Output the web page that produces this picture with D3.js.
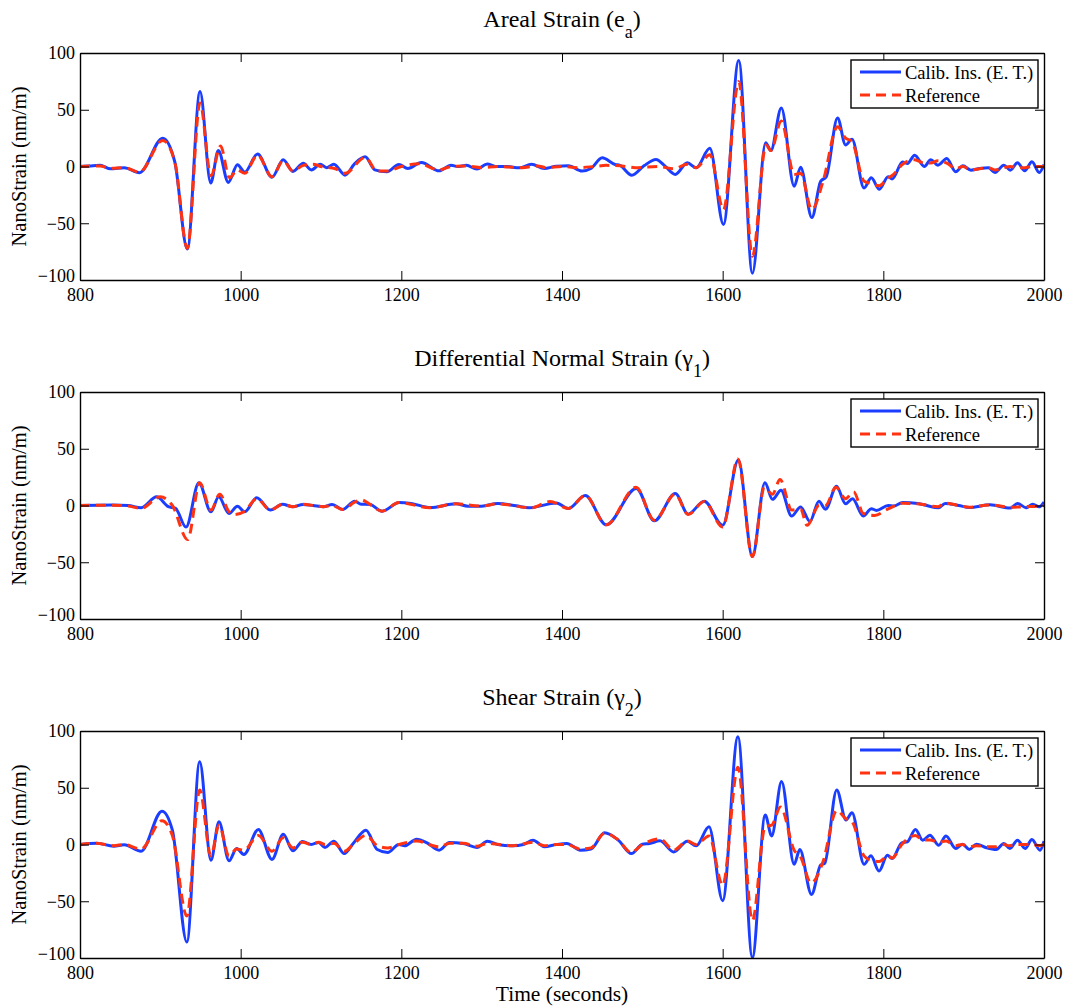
<!DOCTYPE html>
<html lang="en">
<head>
    <meta charset="UTF-8">
    <title>Strain comparison</title>
    <script type="text/javascript" src="https://cdn.jsdelivr.net/npm/d3@7"></script>
    <style>
        body { margin: 0; background: #fff; }
        svg text { font-family: "Liberation Serif", "Times New Roman", serif; fill: #000; }
    </style>
</head>
<body>
<script type="text/javascript">
    var w = 1068;
    var h = 1007;

    var xTicks = [800, 1000, 1200, 1400, 1600, 1800, 2000];
    var yTicks = [-100, -50, 0, 50, 100];
    var seriesNames = ["Calib. Ins. (E. T.)", "Reference"];

    // panel titles: main text, subscript
    var titles = [
        ["Areal Strain (e", "a"],
        ["Differential Normal Strain (\u03b3", "1"],
        ["Shear Strain (\u03b3", "2"]
    ];

    // [time (s), nanostrain]
    var arealCalib = [[800,0],[812,0.5],[825,1],[838,-2],[855,-1],[874,-5.5],[903,25],[918,4],[933.6,-72.7],[949.4,66],[962.7,-14.5],[972.2,14.2],[984.6,-14],[996,1.6],[1005,-5],[1021,11],[1039,-9.5],[1053,6],[1065,-4.3],[1078,2.8],[1088,-3],[1099,2],[1107,-1],[1116,2],[1130,-7.6],[1142,2.6],[1155,8.5],[1167,-3],[1182,-4.7],[1197,1.8],[1208,-1.8],[1225,3.5],[1247,-3.8],[1262,1.2],[1270,0],[1281,1],[1294,-2.3],[1307,2.3],[1317,0],[1330,0],[1347,-1.2],[1362,2],[1378,-1.8],[1393,0.3],[1408,0.6],[1425,-4],[1436,-1.8],[1450,7.6],[1466,1.8],[1472,1],[1487,-7.6],[1502,0.6],[1517,6.2],[1528,0.6],[1541,-7],[1556,3.2],[1567,-1.2],[1584,16],[1601,-51],[1620,93.5],[1637,-94],[1653.5,21],[1660,14],[1673,51.5],[1689,-17.5],[1697,-0.7],[1711,-45],[1722,-13],[1729,-9],[1743,42.7],[1753,19],[1761,24],[1776,-19],[1785,-10],[1795,-20],[1806,-9],[1811,-11],[1824,4],[1830,2.6],[1839,10],[1851,0],[1859,6],[1868,1.2],[1879,7],[1890,-4.7],[1899,0.6],[1909,-3.2],[1920,-1.8],[1931,-1.2],[1939,-5.3],[1950,1.2],[1958,-3.2],[1967,3.2],[1976,-3.8],[1985,4.1],[1994,-5.3],[2000,1.8]];
    var arealRef = [[800,0],[825,0.5],[838,-1.5],[855,-1],[874,-5],[903,23],[918,4],[933.6,-72],[949.4,56],[963,-8],[975,18],[986,-10],[996,-3],[1005,-6],[1021,10],[1039,-9],[1053,5],[1065,-4],[1078,1],[1090,2],[1100,0],[1118,-2],[1130,-6],[1155,8],[1170,-4],[1182,-4],[1200,0],[1222,2.5],[1247,-3],[1262,0],[1280,0.5],[1300,-1],[1320,0],[1350,-1],[1370,0.5],[1380,-1],[1400,0],[1420,-1],[1440,0],[1455,1],[1480,0],[1491,-1],[1520,0],[1539,-2],[1556,2],[1567,-1],[1584,10.4],[1601,-38],[1620,75],[1637,-79],[1654,19],[1660,14],[1673,40],[1689,-7],[1697,-6],[1711,-38],[1725,-13],[1743,35],[1753,25],[1761,22],[1776,-13],[1785,-15],[1795,-17],[1806,-10],[1811,-8],[1824,2],[1839,6],[1851,3],[1859,3],[1868,5],[1879,3],[1890,-2],[1899,0],[1909,-3],[1920,-2],[1931,-1],[1939,-3],[1950,-1],[1958,0],[1967,-1],[1976,-1],[1985,0],[1994,0],[2000,0]];

    var diffCalib = [[800,0],[840,0.5],[860,0],[876,-2],[895.5,7.6],[910,-1],[919,-2.6],[932,-19],[948,20],[963,-5.6],[972.6,7.6],[985.5,-7],[996,-0.6],[1005,-5.6],[1020,6.8],[1037,-4],[1052,1.2],[1065,-1.2],[1077.5,0.9],[1090,0],[1103,-1.2],[1114,0.9],[1127,-3.5],[1142,3.8],[1150,1.2],[1161,0.9],[1176,-5],[1197.5,2.6],[1212,1.8],[1236,-1.8],[1268,1.5],[1283,-0.6],[1300,-0.6],[1320,1.8],[1343,-0.3],[1359,-2],[1393,2.3],[1408,-2.6],[1429,8.8],[1455,-17],[1492.5,15],[1515,-13.5],[1541,10.6],[1557,-7.6],[1577,3.8],[1600,-17.5],[1619.5,40],[1637,-45],[1652.6,20],[1662,5.4],[1672.6,13.4],[1685.8,-9.3],[1697,-1.3],[1708.6,-14],[1719.8,3.7],[1728,-3.4],[1741.7,17],[1753,1.5],[1761.7,6],[1775,-9.3],[1785,-2.8],[1791.4,-4.3],[1806,0],[1813,-0.5],[1824,2.6],[1843,1.8],[1868.5,-2],[1877,1.8],[1894,0],[1907,-1.8],[1933,0.6],[1958,-2.3],[1967,1.8],[1978,-2],[1986,1.2],[1994,-1.2],[2000,3]];
    var diffRef = [[800,0],[840,0.3],[860,-0.5],[876,-2.5],[900,7.6],[915,0],[934,-30],[949,20],[963,-4],[974,10],[985,-5],[992,-8],[1005,-5],[1020,6],[1037,-4],[1052,1],[1065,-1],[1078,1],[1090,0],[1103,-1],[1114,0],[1127,-3.5],[1142,3],[1150,5],[1161,1],[1176,-5],[1197,2.6],[1236,-2],[1268,1.5],[1300,-0.5],[1320,1.5],[1362,-2],[1385,3.5],[1408,-2.6],[1429,8.8],[1455,-17],[1492,16],[1515,-13],[1541,10],[1557,-8],[1577,3.5],[1600,-19],[1619,41],[1637,-45],[1652,16],[1662,10],[1671.4,23],[1686,-4],[1697,-3],[1705,-17.5],[1720,0],[1728,0],[1741,16],[1753,6],[1763,12],[1775,-7],[1789,-8.7],[1806,-3],[1824,2],[1843,1.5],[1868,-1],[1877,2],[1894,0],[1907,-1.5],[1933,0.5],[1958,-1.5],[1978,-1],[1994,-0.5],[2000,0]];

    var shearCalib = [[800,0],[820.6,1.2],[842,-1.5],[855,-0.3],[876,-5.9],[902,29.4],[915,12.6],[933,-86],[949,73],[963,-13.8],[973,20],[985.5,-14.4],[995,-3.5],[1004,-8.8],[1022,13.2],[1039,-13.2],[1053,9],[1065,-5.6],[1077,2.6],[1088,0],[1097,1.8],[1105,-2.6],[1116,2.9],[1129,-8],[1140,0.9],[1156,12.6],[1170,-4.4],[1183,-7],[1197,0],[1204,-1.2],[1219,4.7],[1232,1.5],[1247,-5],[1260,1.8],[1277,0.9],[1294,-2.6],[1307,2.9],[1322,-0.3],[1339,-1.2],[1352,0],[1364,3.8],[1378,-2],[1393,0],[1406,0.9],[1423,-5],[1436,-4],[1453,10.3],[1470,3.8],[1486.5,-8],[1500,0.3],[1509,0.9],[1522,3.2],[1539,-6.5],[1556,2.9],[1567,-1.2],[1583,15.7],[1600,-49.5],[1619,95],[1637,-99.5],[1653,26],[1661,7.5],[1673.3,55.4],[1689,-17.5],[1696,-4.5],[1710.6,-44],[1722,-18],[1727,-16.6],[1742,48],[1753.5,21.6],[1761,28],[1776,-17.5],[1784.6,-10],[1794.6,-23.4],[1805,-9.5],[1811,-12.4],[1823,1.5],[1830,2.4],[1840,13.2],[1849,3.8],[1858,8.2],[1869,-0.6],[1878,7.4],[1890,-3.5],[1898.5,0.3],[1907,-4.4],[1916,0.3],[1928.5,-2.9],[1940.5,-4.4],[1950,0.9],[1957.6,-3.5],[1967,3.8],[1976.5,-3.5],[1985,4.4],[1995,-5],[2000,3]];
    var shearRef = [[800,0],[820,1],[842,-1],[855,0],[876,-4],[902,21],[915,8],[933,-63],[949,48],[963,-10],[973,17],[985.5,-10],[995,-4],[1004,-5],[1022,8],[1039,-6],[1053,6],[1065,-3],[1077,2],[1088,0],[1097,2],[1105,0],[1116,1],[1129,-6],[1140,0],[1156,8],[1170,-1],[1183,-3],[1197,0],[1219,3],[1247,-2],[1260,1],[1277,1],[1294,-1.5],[1307,1],[1322,0],[1339,-1],[1364,2],[1378,-1],[1393,0],[1406,0],[1423,-4],[1436,-3],[1453,10],[1470,4],[1486,-7],[1500,0],[1522,5],[1539,-5],[1556,3],[1567,0],[1583,7.5],[1600,-36],[1619,68],[1637,-67],[1653,16],[1661,17],[1672,33],[1689,-5],[1697,-11],[1710,-34],[1725,-15],[1742,30],[1753,23],[1761,20],[1776,-10],[1785,-14],[1795,-15],[1806,-10],[1811,-12],[1823,0],[1840,8],[1849,4],[1858,4],[1869,2],[1878,3],[1890,-1],[1898,0],[1907,-2],[1916,-1],[1928,-2],[1940,-2],[1950,0],[1957,-1],[1967,0],[1976,0],[1985,0],[1995,-1],[2000,0]];

    var panelCalib = [arealCalib, diffCalib, shearCalib];
    var panelRef = [arealRef, diffRef, shearRef];

    var left = 80, right = 1044;
    var panelTops = [53, 392, 731];
    var ph = 227;
    var tickLen = 9;
    var blue = "#1a3dff";
    var red = "#ff3311";
    var serif = "'Liberation Serif', 'Times New Roman', serif";

    var svg = d3.select("body")
        .append("svg")
        .attr("width", w)
        .attr("height", h);

    var xScale = d3.scaleLinear().domain([800, 2000]).range([left, right]);

    function fmt(d) {
        return d < 0 ? "\u2212" + Math.abs(d) : "" + d;
    }

    panelTops.forEach(function (top, i) {
        var yScale = d3.scaleLinear().domain([-100, 100]).range([top + ph, top]);
        var g = svg.append("g");

        svg.append("clipPath").attr("id", "clip" + i)
            .append("rect")
            .attr("x", left).attr("y", top)
            .attr("width", right - left).attr("height", ph);

        var line = d3.line()
            .x(function (d) { return xScale(d[0]); })
            .y(function (d) { return yScale(d[1]); })
            .curve(d3.curveMonotoneX);

        var lines = g.append("g").attr("clip-path", "url(#clip" + i + ")");
        lines.append("path")
            .datum(panelCalib[i])
            .attr("d", line)
            .attr("fill", "none")
            .attr("stroke", blue)
            .attr("stroke-width", 3)
            .attr("stroke-linejoin", "round");
        lines.append("path")
            .datum(panelRef[i])
            .attr("d", line)
            .attr("fill", "none")
            .attr("stroke", red)
            .attr("stroke-width", 3)
            .attr("stroke-dasharray", "10,6");

        // axes, ticks inward on all four sides
        var axB = d3.axisBottom(xScale).tickValues(xTicks).tickSizeInner(-tickLen).tickSizeOuter(0).tickPadding(8).tickFormat(d3.format("d"));
        var axT = d3.axisTop(xScale).tickValues(xTicks).tickSizeInner(-tickLen).tickSizeOuter(0).tickFormat("");
        var axL = d3.axisLeft(yScale).tickValues(yTicks).tickSizeInner(-tickLen).tickSizeOuter(0).tickPadding(5).tickFormat(fmt);
        var axR = d3.axisRight(yScale).tickValues(yTicks).tickSizeInner(-tickLen).tickSizeOuter(0).tickFormat("");

        var gb = g.append("g").attr("transform", "translate(0," + (top + ph) + ")").call(axB);
        var gt = g.append("g").attr("transform", "translate(0," + top + ")").call(axT);
        var gl = g.append("g").attr("transform", "translate(" + left + ",0)").call(axL);
        var gr = g.append("g").attr("transform", "translate(" + right + ",0)").call(axR);

        [gb, gt, gl, gr].forEach(function (a) {
            a.attr("font-family", null).attr("font-size", null);
            a.select(".domain").attr("stroke", "#000").attr("stroke-width", 1.4);
            a.selectAll(".tick line").attr("stroke", "#000").attr("stroke-width", 1);
            a.selectAll("text")
                .style("font-family", serif)
                .style("font-size", "18px")
                .attr("fill", "#000");
        });
        // lift the lowest y label a little so it clears the first x label
        gl.selectAll(".tick text").filter(function (d) { return d === -100; })
            .attr("dy", "0.1em");

        // title with subscript
        var t = svg.append("text")
            .attr("x", (left + right) / 2)
            .attr("y", top - 26)
            .attr("text-anchor", "middle")
            .style("font-family", serif)
            .style("font-size", "24px");
        t.append("tspan").text(titles[i][0]);
        t.append("tspan").attr("dy", 11).style("font-size", "18px").text(titles[i][1]);
        t.append("tspan").attr("dy", -11).text(")");

        svg.append("text")
            .attr("transform", "translate(26," + (top + ph / 2) + ") rotate(-90)")
            .attr("text-anchor", "middle")
            .style("font-family", serif)
            .style("font-size", "20.5px")
            .text("NanoStrain (nm/m)");

        // legend
        var lg = svg.append("g").attr("transform", "translate(851," + (top + 7) + ")");
        lg.append("rect")
            .attr("width", 187).attr("height", 48)
            .attr("fill", "#fff").attr("stroke", "#000").attr("stroke-width", 1.4);
        [0, 1].forEach(function (k) {
            var yy = 12 + k * 23;
            lg.append("line")
                .attr("x1", 9).attr("x2", 50).attr("y1", yy).attr("y2", yy)
                .attr("stroke", k === 0 ? blue : red)
                .attr("stroke-width", 3)
                .attr("stroke-dasharray", k === 0 ? null : "10,6");
            lg.append("text")
                .attr("x", 54).attr("y", yy + 6.5)
                .style("font-family", serif)
                .style("font-size", "18.5px")
                .text(seriesNames[k]);
        });
    });

    svg.append("text")
        .attr("x", (left + right) / 2)
        .attr("y", 1001)
        .attr("text-anchor", "middle")
        .style("font-family", serif)
        .style("font-size", "21.5px")
        .text("Time (seconds)");
</script>
</body>
</html>
